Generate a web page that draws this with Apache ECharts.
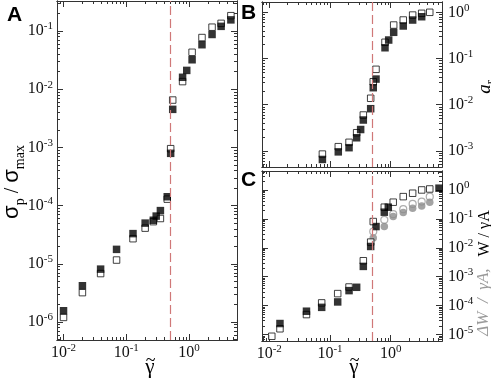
<!DOCTYPE html>
<html>
<head>
<meta charset="utf-8">
<script src="https://cdn.jsdelivr.net/npm/echarts@6/dist/echarts.min.js"></script>
<style>
  html, body { margin: 0; padding: 0; background: #fff; }
  #main { width: 491px; height: 378px; }
</style>
</head>
<body>
<div id="main"></div>
<script>
// 临界剪切 γ̃c（红色虚线）
const gammaC = 0.5;

// 面板 A: σp / σmax
const xA = [0.01, 0.02, 0.039, 0.07, 0.128, 0.2, 0.27, 0.3, 0.35, 0.45, 0.51, 0.55, 0.79, 0.92, 1.12, 1.61, 2.33, 3.25, 4.65];
const aFilled = [1.56e-6, 4.2e-6, 8.1e-6, 1.77e-5, 3.3e-5, 5.0e-5, 5.6e-5, 6.6e-5, 8.2e-5, 1.42e-4, 7.9e-4, 4.5e-3, 0.016, 0.021, 0.032, 0.058, 0.087, 0.12, 0.155];
const aOpen = [1.2e-6, 3.2e-6, 6.8e-6, 1.16e-5, 2.7e-5, 4.1e-5, 5.3e-5, null, 6.0e-5, 1.29e-4, 9.5e-4, 6.5e-3, 0.0135, null, 0.043, 0.077, 0.116, 0.135, 0.183];

// 面板 B: a_r
const xB = [0.075, 0.137, 0.206, 0.275, 0.32, 0.354, 0.468, 0.516, 0.573, 0.806, 0.927, 1.12, 1.61, 2.3, 3.24, 4.4];
const bFilled = [6.5e-4, 9.5e-4, 1.17e-3, 1.92e-3, 2.9e-3, 4.66e-3, 8.2e-3, 0.0234, 0.036, 0.172, 0.253, 0.372, 0.51, 0.687, 0.81, null];
const bOpen = [8.5e-4, 1.23e-3, 1.53e-3, 2.47e-3, null, 5.98e-3, 0.0138, 0.0315, 0.0586, 0.226, null, 0.535, 0.687, 0.88, 0.96, 1.01];

// 面板 C: W / γA（方块）, ΔW / γA（灰色圆）
const xC = [0.011, 0.015, 0.041, 0.073, 0.134, 0.206, 0.275, 0.354, 0.468, 0.516, 0.573, 0.785, 0.913, 1.1, 1.61, 2.3, 3.24, 4.4, 6.25];
const cFilled = [null, 2.4e-5, 6.4e-5, 8.7e-5, 1.34e-4, 3.3e-4, 4.3e-4, 2.27e-3, 0.0111, null, 0.0542, 0.17, 0.253, null, null, null, null, null, 1.15];
const cOpen = [8.7e-6, 1.58e-5, 4.9e-5, 1.24e-4, 2.6e-4, 4.4e-4, null, 3.56e-3, 0.0157, 0.0807, null, 0.253, null, 0.377, 0.587, 0.77, 1.0, 1.08, null];
const xCg = [0.516, 0.785, 1.1, 1.61, 2.3, 3.24, 4.4];
const cgOpen = [0.0365, 0.0924, 0.145, 0.216, 0.329, 0.395, 0.587];
const cgFilled = [0.0216, 0.0542, 0.12, 0.165, 0.234, 0.281, 0.377];

// 坐标轴范围（真实值，画图时取 log10）
const rangeAx = [0.00787, 5.82];
const rangeAy = [4.91e-7, 0.327];
const rangeBx = [0.00759, 7.0];
const rangeBy = [4.46e-4, 1.69];
const rangeCy = [5.97e-6, 4.52];

const axisColor = '#333';
const serif = 'Liberation Serif';
const sans = 'Liberation Sans';

const labelRich = {
  b: { fontFamily: serif, fontSize: 16, lineHeight: 16, color: '#111', verticalAlign: 'bottom' },
  e: { fontFamily: serif, fontSize: 11, lineHeight: 11, color: '#111', verticalAlign: 'bottom', padding: [0, 0, 7, 0] }
};

function powLabel(v) {
  return '{b|10}{e|' + Math.round(v) + '}';
}

// 对数刻度：主刻度（10^n）与次刻度（k·10^n）
function decadeTicks(lo, hi) {
  const major = [], minor = [];
  for (let n = Math.floor(lo); n <= Math.ceil(hi); n++) {
    if (n >= lo && n <= hi) major.push(n);
    for (let k = 2; k <= 9; k++) {
      const v = n + Math.log10(k);
      if (v >= lo && v <= hi) minor.push(v);
    }
  }
  return { major, minor };
}

function makeAxis(grid, position, ext, values, len, withLabel, margin) {
  return {
    type: 'value', gridIndex: grid, position: position, min: ext[0], max: ext[1],
    axisLine: { show: true, onZero: false, lineStyle: { color: axisColor, width: 1 } },
    axisTick: { show: true, inside: true, length: len, customValues: values, lineStyle: { color: axisColor, width: 1 } },
    axisLabel: withLabel
      ? { show: true, customValues: values, formatter: powLabel, rich: labelRich, margin: margin }
      : { show: false },
    splitLine: { show: false }
  };
}

// 每个面板四条边都有刻度：主刻度轴 + 次刻度轴
function panelAxes(grid, range, dim, labelSide, margin) {
  const ext = [Math.log10(range[0]), Math.log10(range[1])];
  const t = decadeTicks(ext[0], ext[1]);
  const sides = dim === 'x' ? ['bottom', 'top'] : ['left', 'right'];
  const list = [];
  sides.forEach(side => {
    list.push(makeAxis(grid, side, ext, t.major, 6, side === labelSide, margin));
    list.push(makeAxis(grid, side, ext, t.minor, 3, false, 0));
  });
  return list;
}

function pairs(xs, ys) {
  return xs.map((x, i) => ys[i] == null ? null : [Math.log10(x), Math.log10(ys[i])]).filter(Boolean);
}

function scatter(p, data, symbol, size, style) {
  return {
    type: 'scatter', xAxisIndex: p * 4, yAxisIndex: p * 4,
    symbol: symbol, symbolSize: size, data: data,
    itemStyle: style, silent: true
  };
}

const openSq = { color: '#fff', borderColor: '#111', borderWidth: 1 };
const fillSq = { color: '#000' };

function critLine(p) {
  return {
    type: 'line', xAxisIndex: p * 4, yAxisIndex: p * 4, data: [], silent: true,
    markLine: {
      silent: true, symbol: 'none', label: { show: false }, animation: false,
      lineStyle: { color: '#d07878', type: [9, 4], width: 1.2 },
      data: [{ xAxis: Math.log10(gammaC) }]
    }
  };
}

// γ̃：γ 加上方的波浪号
function gammaTilde(x) {
  return [
    { type: 'text', x: x, y: 367, style: { text: 'γ', fontFamily: serif, fontSize: 21, fill: '#000', align: 'center', verticalAlign: 'middle' } },
    { type: 'text', x: x + 0.5, y: 361, style: { text: '~', fontFamily: serif, fontSize: 18, fill: '#000', align: 'center', verticalAlign: 'middle' } }
  ];
}

const option = {
  animation: false,
  backgroundColor: '#fff',
  grid: [
    { left: 57, top: 1, width: 180, height: 339 },
    { left: 262, top: 2, width: 180, height: 165 },
    { left: 262, top: 171, width: 180, height: 170 }
  ],
  xAxis: [].concat(
    panelAxes(0, rangeAx, 'x', 'bottom', 5),
    panelAxes(1, rangeBx, 'x', null, 5),
    panelAxes(2, rangeBx, 'x', 'bottom', 5)
  ),
  yAxis: [].concat(
    panelAxes(0, rangeAy, 'y', 'left', 4),
    panelAxes(1, rangeBy, 'y', 'right', 6),
    panelAxes(2, rangeCy, 'y', 'right', 6)
  ),
  series: [
    critLine(0), critLine(1), critLine(2),
    scatter(0, pairs(xA, aOpen), 'rect', 6.5, openSq),
    scatter(0, pairs(xA, aFilled), 'rect', 7.5, fillSq),
    scatter(1, pairs(xB, bOpen), 'rect', 6.5, openSq),
    scatter(1, pairs(xB, bFilled), 'rect', 7.5, fillSq),
    scatter(2, pairs(xCg, cgOpen), 'circle', 7, { color: '#fff', borderColor: '#999', borderWidth: 1.2 }),
    scatter(2, pairs(xCg, cgFilled), 'circle', 7.5, { color: '#8c8c8c' }),
    scatter(2, pairs(xC, cOpen), 'rect', 6.5, openSq),
    scatter(2, pairs(xC, cFilled), 'rect', 7.5, fillSq)
  ],
  graphic: [
    { type: 'text', x: 14.5, y: 15, style: { text: 'A', fontFamily: sans, fontWeight: 'bold', fontSize: 21, fill: '#000', align: 'center', verticalAlign: 'middle' } },
    { type: 'text', x: 248.5, y: 13.5, style: { text: 'B', fontFamily: sans, fontWeight: 'bold', fontSize: 21, fill: '#000', align: 'center', verticalAlign: 'middle' } },
    { type: 'text', x: 248.5, y: 180, style: { text: 'C', fontFamily: sans, fontWeight: 'bold', fontSize: 21, fill: '#000', align: 'center', verticalAlign: 'middle' } },
    {
      type: 'text', x: 14, y: 182, rotation: Math.PI / 2,
      style: {
        text: '{s|σ}{sub|p}{sl| / }{s|σ}{sub|max}', align: 'center', verticalAlign: 'middle',
        rich: {
          s: { fontFamily: sans, fontSize: 22, fill: '#000', verticalAlign: 'bottom', padding: [0, 0, 4, 0] },
          sl: { fontFamily: serif, fontSize: 20, fill: '#000', verticalAlign: 'bottom', padding: [0, 0, 4, 0] },
          sub: { fontFamily: serif, fontSize: 14, fill: '#000', verticalAlign: 'bottom' }
        }
      }
    },
    {
      type: 'text', x: 486, y: 87, rotation: Math.PI / 2,
      style: {
        text: '{a|a}{r|r}', align: 'center', verticalAlign: 'middle',
        rich: {
          a: { fontFamily: serif, fontStyle: 'italic', fontSize: 19, fill: '#000', verticalAlign: 'bottom', padding: [0, 0, 3, 0] },
          r: { fontFamily: serif, fontSize: 12, fill: '#000', verticalAlign: 'bottom' }
        }
      }
    },
    {
      type: 'text', x: 484, y: 273, rotation: Math.PI / 2,
      style: {
        text: '{g|ΔW  /  γA,}{k|   W / γA}', align: 'center', verticalAlign: 'middle',
        rich: {
          g: { fontFamily: serif, fontStyle: 'italic', fontSize: 17, fill: '#9a9a9a', verticalAlign: 'bottom' },
          k: { fontFamily: serif, fontSize: 16, fill: '#000', verticalAlign: 'bottom' }
        }
      }
    }
  ].concat(gammaTilde(150), gammaTilde(354))
};

const chart = echarts.init(document.getElementById('main'));
chart.setOption(option);
</script>
</body>
</html>
